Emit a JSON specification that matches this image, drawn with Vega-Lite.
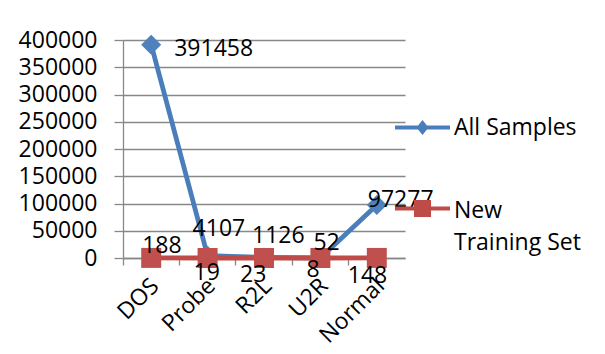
{
  "$schema": "https://vega.github.io/schema/vega-lite/v6.json",
  "width": 282,
  "height": 218,
  "autosize": {"type": "none"},
  "padding": {"left": 123, "top": 40, "right": 200, "bottom": 96},
  "background": "white",
  "config": {
    "view": {"stroke": null},
    "font": "Open Sans",
    "axis": {"labelFont": "Open Sans", "labelFontSize": 23, "labelColor": "#000000", "domainColor": "#888888", "tickColor": "#888888", "gridColor": "#888888", "gridWidth": 1.3, "domainWidth": 1.3, "tickWidth": 1.3}
  },
  "data": {
    "values": [
      {"category": "DOS", "series": "All Samples", "value": 391458},
      {"category": "Probe", "series": "All Samples", "value": 4107},
      {"category": "R2L", "series": "All Samples", "value": 1126},
      {"category": "U2R", "series": "All Samples", "value": 52},
      {"category": "Normal", "series": "All Samples", "value": 97277},
      {"category": "DOS", "series": "New Training Set", "value": 188},
      {"category": "Probe", "series": "New Training Set", "value": 19},
      {"category": "R2L", "series": "New Training Set", "value": 23},
      {"category": "U2R", "series": "New Training Set", "value": 8},
      {"category": "Normal", "series": "New Training Set", "value": 148}
    ]
  },
  "encoding": {
    "x": {
      "field": "category", "type": "nominal", "sort": ["DOS", "Probe", "R2L", "U2R", "Normal"],
      "scale": {"type": "band", "paddingInner": 0, "paddingOuter": 0},
      "axis": {"title": null, "labelAngle": -45, "labelAlign": "right", "labelBaseline": "middle", "bandPosition": 0, "labelOffset": 4, "tickSize": 7, "labelPadding": 17, "grid": false}
    },
    "y": {
      "field": "value", "type": "quantitative",
      "scale": {"domain": [0, 400000], "nice": false},
      "axis": {"title": null, "values": [0, 50000, 100000, 150000, 200000, 250000, 300000, 350000, 400000], "format": "d", "tickSize": 9, "labelPadding": 17, "grid": true}
    }
  },
  "layer": [
    {
      "mark": {"type": "line", "strokeWidth": 4.8},
      "encoding": {
        "color": {
          "field": "series", "type": "nominal",
          "scale": {"domain": ["All Samples", "New Training Set"], "range": ["#4A7EBB", "#BE4B48"]},
          "legend": {
            "title": null, "orient": "none", "legendX": 272, "legendY": 60, "padding": 0,
            "labelFont": "Open Sans", "labelFontSize": 23, "labelColor": "#000000", "labelOffset": 4, "labelLimit": 300,
            "rowPadding": 41, "symbolSize": 3025, "symbolStrokeWidth": 0,
            "labelExpr": "datum.label == 'New Training Set' ? ['New', 'Training Set'] : datum.label",
            "encode": {
              "symbols": {"update": {
                "shape": {"signal": "datum.value == 'All Samples' ? 'M-1,-0.075H1V0.075H-1Z M0,-0.27L0.22,0L0,0.27L-0.22,0Z' : 'M-1,-0.075H1V0.075H-1Z M-0.31,-0.31H0.31V0.31H-0.31Z'"},
                "fill": {"signal": "datum.value == 'All Samples' ? '#4A7EBB' : '#BE4B48'"},
                "stroke": {"value": "transparent"},
                "strokeWidth": {"value": 0},
                "size": {"value": 3025},
                "opacity": {"value": 1}
              }},
              "labels": {"update": {
                "lineHeight": {"value": 32},
                "dy": {"signal": "datum.value == 'New Training Set' ? 2 : 0"}
              }}
            }
          }
        }
      }
    },
    {
      "transform": [{"filter": "datum.series == 'All Samples'"}],
      "mark": {"type": "point", "filled": true, "size": 400, "opacity": 1, "shape": "diamond", "color": "#4F81BD"},
      "encoding": {}
    },
    {
      "transform": [{"filter": "datum.series == 'New Training Set'"}],
      "mark": {"type": "point", "filled": true, "size": 400, "opacity": 1, "shape": "square", "color": "#C0504D"},
      "encoding": {}
    },
    {"transform": [{"filter": "datum.series == 'All Samples' && datum.category == 'DOS'"}], "mark": {"type": "text", "align": "left", "baseline": "alphabetic", "fontSize": 23, "color": "#000000", "dx": 23, "dy": 11}, "encoding": {"text": {"field": "value", "type": "quantitative", "format": "d"}}},
    {"transform": [{"filter": "datum.series == 'All Samples' && datum.category == 'Probe'"}], "mark": {"type": "text", "align": "left", "baseline": "alphabetic", "fontSize": 23, "color": "#000000", "dx": -15, "dy": -20}, "encoding": {"text": {"field": "value", "type": "quantitative", "format": "d"}}},
    {"transform": [{"filter": "datum.series == 'All Samples' && datum.category == 'R2L'"}], "mark": {"type": "text", "align": "left", "baseline": "alphabetic", "fontSize": 23, "color": "#000000", "dx": -12, "dy": -14}, "encoding": {"text": {"field": "value", "type": "quantitative", "format": "d"}}},
    {"transform": [{"filter": "datum.series == 'All Samples' && datum.category == 'U2R'"}], "mark": {"type": "text", "align": "left", "baseline": "alphabetic", "fontSize": 23, "color": "#000000", "dx": -7, "dy": -8}, "encoding": {"text": {"field": "value", "type": "quantitative", "format": "d"}}},
    {"transform": [{"filter": "datum.series == 'All Samples' && datum.category == 'Normal'"}], "mark": {"type": "text", "align": "left", "baseline": "alphabetic", "fontSize": 23, "color": "#000000", "dx": -9, "dy": 2}, "encoding": {"text": {"field": "value", "type": "quantitative", "format": "d"}}},
    {"transform": [{"filter": "datum.series == 'New Training Set' && datum.category == 'DOS'"}], "mark": {"type": "text", "align": "left", "baseline": "alphabetic", "fontSize": 23, "color": "#000000", "dx": -9, "dy": -5}, "encoding": {"text": {"field": "value", "type": "quantitative", "format": "d"}}},
    {"transform": [{"filter": "datum.series == 'New Training Set' && datum.category == 'Probe'"}], "mark": {"type": "text", "align": "left", "baseline": "alphabetic", "fontSize": 23, "color": "#000000", "dx": -14, "dy": 22}, "encoding": {"text": {"field": "value", "type": "quantitative", "format": "d"}}},
    {"transform": [{"filter": "datum.series == 'New Training Set' && datum.category == 'R2L'"}], "mark": {"type": "text", "align": "left", "baseline": "alphabetic", "fontSize": 23, "color": "#000000", "dx": -24, "dy": 24}, "encoding": {"text": {"field": "value", "type": "quantitative", "format": "d"}}},
    {"transform": [{"filter": "datum.series == 'New Training Set' && datum.category == 'U2R'"}], "mark": {"type": "text", "align": "left", "baseline": "alphabetic", "fontSize": 23, "color": "#000000", "dx": -14, "dy": 19}, "encoding": {"text": {"field": "value", "type": "quantitative", "format": "d"}}},
    {"transform": [{"filter": "datum.series == 'New Training Set' && datum.category == 'Normal'"}], "mark": {"type": "text", "align": "left", "baseline": "alphabetic", "fontSize": 23, "color": "#000000", "dx": -29, "dy": 25}, "encoding": {"text": {"field": "value", "type": "quantitative", "format": "d"}}}
  ]
}
